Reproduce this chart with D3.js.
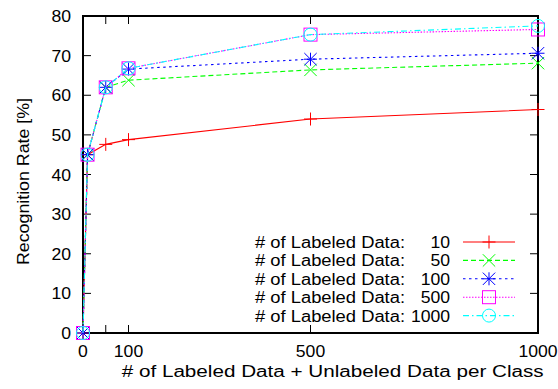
<!DOCTYPE html>
<html>
<head>
<meta charset="utf-8">
<script src="https://cdn.jsdelivr.net/npm/d3@7"></script>
<style>
  body { margin: 0; background: #fff; }
  text { font-family: "Liberation Sans", Arial, sans-serif; fill: #000; }
</style>
</head>
<body>
<div id="chart"></div>
<script>
// Data
const xValues = [0, 10, 50, 100, 500, 1000];
const labeled10 = [0, 45, 47.6, 48.8, 54.0, 56.4];
const labeled50 = [0, 45, 62.0, 63.8, 66.4, 68.1];
const labeled100 = [0, 45, 62.0, 66.6, 69.1, 70.6];
const labeled500 = [0, 45, 62.0, 66.8, 75.3, 76.6];
const labeled1000 = [0, 45, 62.0, 66.8, 75.3, 77.5];
const seriesNames = ['10', '50', '100', '500', '1000'];
const xTicks = [0, 50, 100, 500, 1000];
const xTickLabels = ['0', '', '100', '500', '1000'];
const yTicks = [0, 10, 20, 30, 40, 50, 60, 70, 80];

const width = 558, height = 389;
const margin = {top: 16, right: 20, bottom: 56, left: 83};
const digitStretch = 1.1;

const series = [
    {name: seriesNames[0], values: labeled10, color: '#ff0000', dash: null, marker: 'plus'},
    {name: seriesNames[1], values: labeled50, color: '#00ff00', dash: '5,3', marker: 'cross'},
    {name: seriesNames[2], values: labeled100, color: '#0000ff', dash: '2.5,3.5', marker: 'star'},
    {name: seriesNames[3], values: labeled500, color: '#ff00ff', dash: '1.5,1.5', marker: 'square'},
    {name: seriesNames[4], values: labeled1000, color: '#00ffff', dash: '6,3,1.5,3', marker: 'circle'}
];

const svg = d3.select('#chart').append('svg')
    .attr('width', width)
    .attr('height', height);

const x = d3.scaleLinear().domain([0, 1000]).range([margin.left, width - margin.right]);
const y = d3.scaleLinear().domain([0, 80]).range([height - margin.bottom, margin.top]);

// number labels, a bit wider than Liberation Sans digits
function numLabel(g, tx, ty, str, anchor) {
    g.append('g').attr('transform', `translate(${tx},${ty})`)
        .append('text')
        .attr('transform', `scale(${digitStretch},1)`)
        .attr('text-anchor', anchor)
        .style('font-size', '16px')
        .text(str);
}

// word labels, fitted to the width measured on the reference
function wordLabel(g, tx, ty, str, anchor, len, rotate) {
    g.append('text')
        .attr('transform', `translate(${tx},${ty})` + (rotate ? ` rotate(${rotate})` : ''))
        .attr('text-anchor', anchor)
        .attr('textLength', len)
        .attr('lengthAdjust', 'spacingAndGlyphs')
        .style('font-size', '16px')
        .text(str);
}

// tick marks (inward, mirrored like gnuplot)
const ticks = svg.append('g').attr('stroke', '#000').attr('stroke-width', 1);
const tl = 8;
yTicks.forEach(v => {
    ticks.append('line').attr('x1', x(0)).attr('x2', x(0) + tl).attr('y1', y(v)).attr('y2', y(v));
    ticks.append('line').attr('x1', x(1000)).attr('x2', x(1000) - tl).attr('y1', y(v)).attr('y2', y(v));
});
xTicks.forEach(v => {
    ticks.append('line').attr('x1', x(v)).attr('x2', x(v)).attr('y1', y(0)).attr('y2', y(0) - tl);
    ticks.append('line').attr('x1', x(v)).attr('x2', x(v)).attr('y1', y(80)).attr('y2', y(80) + tl);
});

// border
svg.append('rect')
    .attr('x', x(0)).attr('y', y(80))
    .attr('width', x(1000) - x(0)).attr('height', y(0) - y(80))
    .attr('fill', 'none').attr('stroke', '#000').attr('stroke-width', 2);

// tick labels
const labels = svg.append('g');
yTicks.forEach(v => numLabel(labels, 71, y(v) + 6, String(v), 'end'));
xTicks.forEach((v, i) => {
    if (xTickLabels[i]) numLabel(labels, x(v), 357, xTickLabels[i], 'middle');
});

// axis titles
wordLabel(labels, 121.7, 377, '# of Labeled Data + Unlabeled Data per Class', 'start', 422);
wordLabel(labels, 29, 265, 'Recognition Rate [%]', 'start', 167, -90);

// marker drawing
function drawMarker(g, cx, cy, type, color) {
    const s = 6.5;
    const m = g.append('g').attr('transform', `translate(${cx},${cy})`)
        .attr('stroke', color).attr('stroke-width', 1).attr('fill', 'none');
    if (type === 'plus' || type === 'star') {
        m.append('line').attr('x1', -s).attr('x2', s).attr('y1', 0).attr('y2', 0);
        m.append('line').attr('x1', 0).attr('x2', 0).attr('y1', -s).attr('y2', s);
    }
    if (type === 'cross' || type === 'star') {
        const d = s * 0.95;
        m.append('line').attr('x1', -d).attr('x2', d).attr('y1', -d).attr('y2', d);
        m.append('line').attr('x1', -d).attr('x2', d).attr('y1', d).attr('y2', -d);
    }
    if (type === 'square') {
        m.append('rect').attr('x', -s).attr('y', -s).attr('width', 2 * s).attr('height', 2 * s);
    }
    if (type === 'circle') {
        m.append('circle').attr('r', s);
    }
}

const line = d3.line().x(d => x(d[0])).y(d => y(d[1]));

// series lines + markers
series.forEach(s => {
    const pts = xValues.map((xv, i) => [xv, s.values[i]]);
    const g = svg.append('g');
    g.append('path')
        .attr('d', line(pts))
        .attr('fill', 'none')
        .attr('stroke', s.color)
        .attr('stroke-width', 1.1)
        .attr('stroke-dasharray', s.dash);
    pts.forEach(p => drawMarker(g, x(p[0]), y(p[1]), s.marker, s.color));
});

// legend
const legend = svg.append('g');
const rowY0 = 242, rowStep = 18.4;
series.forEach((s, i) => {
    const ry = rowY0 + i * rowStep;
    wordLabel(legend, 255, ry + 6, '# of Labeled Data:', 'start', 150);
    numLabel(legend, 450, ry + 6, s.name, 'end');
    legend.append('line')
        .attr('x1', 463).attr('x2', 515).attr('y1', ry).attr('y2', ry)
        .attr('stroke', s.color).attr('stroke-width', 1.1)
        .attr('stroke-dasharray', s.dash);
    drawMarker(legend, 489, ry, s.marker, s.color);
});
</script>
</body>
</html>
